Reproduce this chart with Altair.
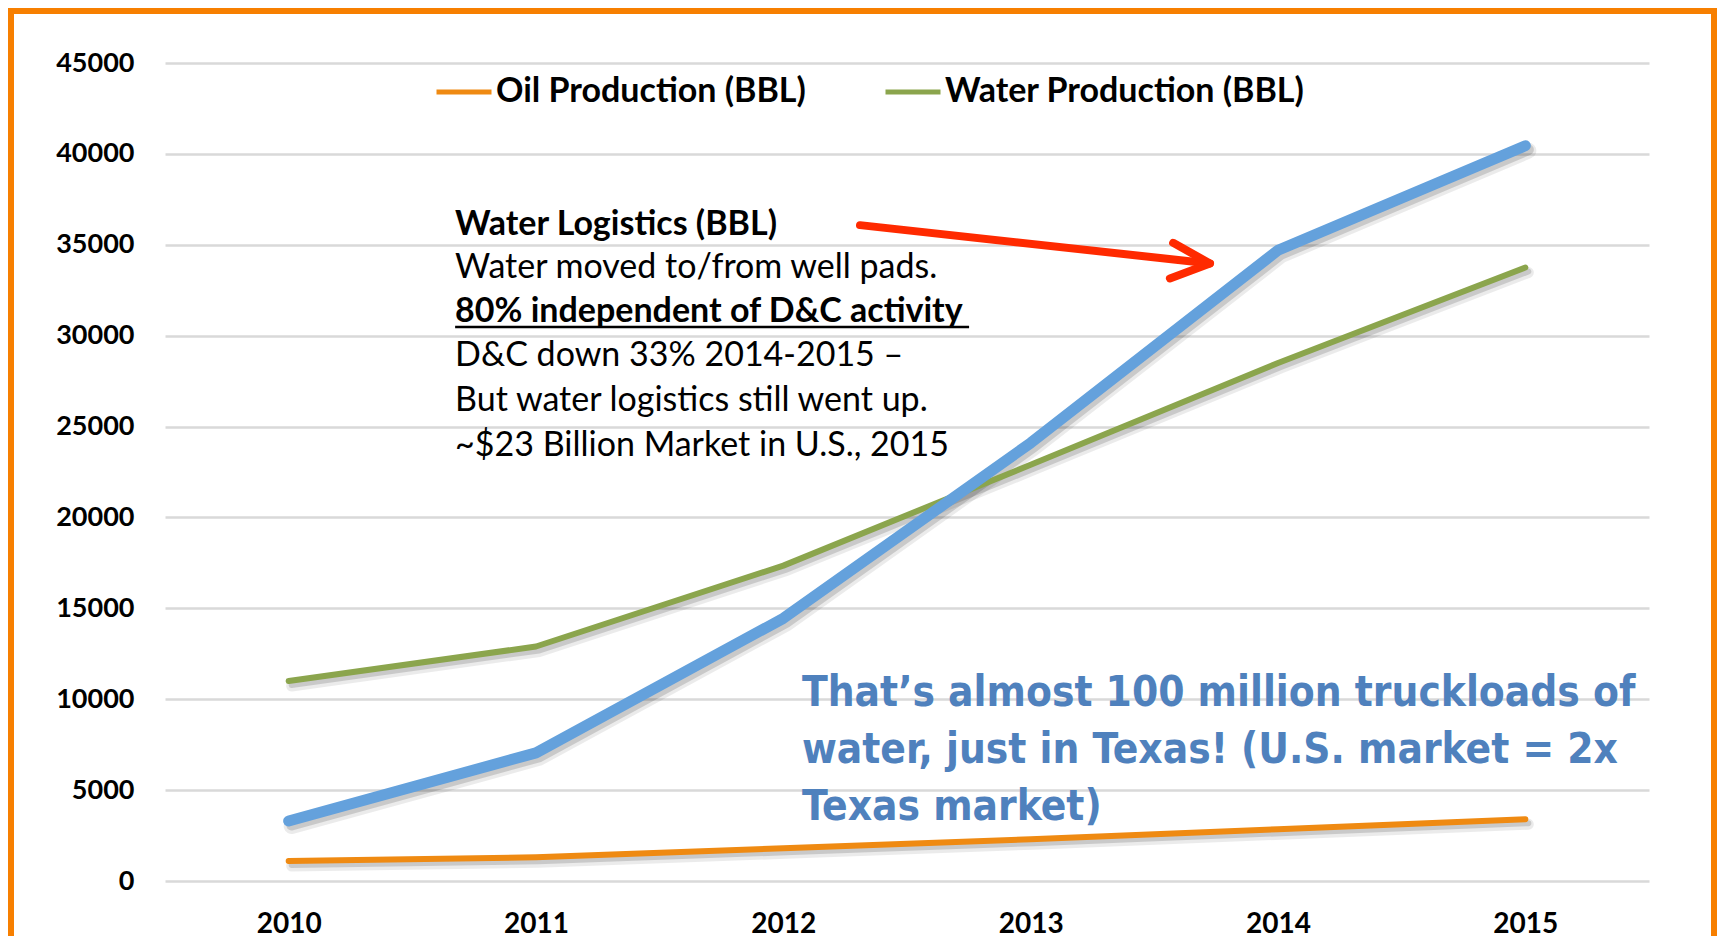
import altair as alt
import pandas as pd

# ---------------- data ----------------
years = [2010, 2011, 2012, 2013, 2014, 2015]
oil_production = [1100, 1300, 1800, 2300, 2850, 3400]
water_production = [11000, 12900, 17350, 22900, 28500, 33750]
water_logistics = [3300, 7050, 14450, 24100, 34700, 40450]

legend_names = ["Oil Production (BBL)", "Water Production (BBL)"]
y_ticks = [0, 5000, 10000, 15000, 20000, 25000, 30000, 35000, 40000, 45000]

note_lines = [
    "Water Logistics (BBL)",
    "Water moved to/from well pads.",
    "80% independent of D&C activity",
    "D&C down 33% 2014-2015 –",
    "But water logistics still went up.",
    "~$23 Billion Market in U.S., 2015",
]
note_weights = ["bold", "normal", "bold", "normal", "normal", "normal"]
note_values = [36100, 33750, 31311, 28886, 26405, 23919]
note_year = 2010.673
underline_years = [2010.673, 2012.751]
underline_value = 30470

texas_lines = [
    "That’s almost 100 million truckloads of",
    "water, just in Texas! (U.S. market = 2x",
    "Texas market)",
]
texas_values = [9625, 6490, 3355]
texas_year = 2012.075

arrow_shaft_years = [2012.310, 2013.725]
arrow_shaft_values = [36080, 33974]
arrow_head_years = [2013.576, 2013.725, 2013.563]
arrow_head_values = [35107, 33974, 33150]

# ---------------- styles ----------------
ORANGE = "#ef8a12"
GREEN = "#8ba54d"
BLUE = "#64a1dc"
TEXT_BLUE = "#4f81bd"
RED = "#ff2a00"
FRAME = "#f77f00"
BODY_FONT = "Lato"
FUN_FONT = "DejaVu Sans Condensed, sans-serif"

W, H = 1484, 818

df = pd.DataFrame({
    "year": years * 2,
    "value": oil_production + water_production,
    "series": [legend_names[0]] * len(years) + [legend_names[1]] * len(years),
})
log_df = pd.DataFrame({"year": years, "value": water_logistics})

x_enc = alt.X(
    "year:Q",
    scale=alt.Scale(domain=[2009.5, 2015.5], nice=False, zero=False),
    axis=alt.Axis(values=years, format="d", grid=False, domain=False, ticks=False,
                  tickSize=0, labelPadding=29, labelFontSize=28, labelFontWeight="bold",
                  labelColor="black", labelFont=BODY_FONT, title=None),
)
y_enc = alt.Y(
    "value:Q",
    scale=alt.Scale(domain=[0, 45000], nice=False),
    axis=alt.Axis(values=y_ticks, format="d", grid=True, gridColor="#d9d9d9", gridWidth=2.5,
                  domain=False, ticks=False, tickSize=0, labelPadding=31, labelFontSize=27,
                  labelFontWeight="bold", labelColor="black", labelFont=BODY_FONT, title=None),
)

shadow_soft = alt.Chart(df).mark_line(
    color="black", opacity=0.08, strokeWidth=11, xOffset=3, yOffset=5, strokeCap="round"
).encode(x=x_enc, y=y_enc, detail="series:N")
shadow = alt.Chart(df).mark_line(
    color="black", opacity=0.14, strokeWidth=6, xOffset=3, yOffset=4, strokeCap="round"
).encode(x=x_enc, y=y_enc, detail="series:N")

log_shadow_soft = alt.Chart(log_df).mark_line(
    color="black", opacity=0.08, strokeWidth=16, xOffset=3, yOffset=5, strokeCap="round"
).encode(x=x_enc, y=y_enc)
log_shadow = alt.Chart(log_df).mark_line(
    color="black", opacity=0.14, strokeWidth=11, xOffset=3, yOffset=4, strokeCap="round"
).encode(x=x_enc, y=y_enc)

lines = alt.Chart(df).mark_line(strokeWidth=6, strokeCap="round", strokeJoin="round").encode(
    x=x_enc,
    y=y_enc,
    color=alt.Color(
        "series:N",
        scale=alt.Scale(domain=legend_names, range=[ORANGE, GREEN]),
        legend=alt.Legend(
            orient="none", legendX=269, legendY=-1, direction="horizontal", title=None,
            symbolType="stroke", symbolSize=3025, symbolStrokeWidth=5,
            labelFontSize=34, labelFontWeight="bold", labelFont=BODY_FONT,
            labelColor="black", labelOffset=2, columnPadding=69, labelLimit=600,
        ),
    ),
)

log_line = alt.Chart(log_df).mark_line(
    color=BLUE, strokeWidth=11, strokeCap="round", strokeJoin="round"
).encode(x=x_enc, y=y_enc)

notes_df = pd.DataFrame({
    "text": note_lines, "weight": note_weights,
    "value": note_values, "year": [note_year] * len(note_lines),
})
notes_bold = alt.Chart(notes_df).transform_filter(alt.datum.weight == "bold").mark_text(
    align="left", baseline="middle", font=BODY_FONT, fontSize=34, fontWeight="bold", color="black"
).encode(x="year:Q", y="value:Q", text="text:N")
notes_norm = alt.Chart(notes_df).transform_filter(alt.datum.weight == "normal").mark_text(
    align="left", baseline="middle", font=BODY_FONT, fontSize=34, color="black"
).encode(x="year:Q", y="value:Q", text="text:N")

underline = alt.Chart(pd.DataFrame({
    "x1": [underline_years[0]], "x2": [underline_years[1]], "v": [underline_value]
})).mark_rule(color="black", strokeWidth=2.5).encode(x="x1:Q", x2="x2:Q", y="v:Q")

texas_df = pd.DataFrame({
    "text": texas_lines, "value": texas_values, "year": [texas_year] * len(texas_lines)
})
texas = alt.Chart(texas_df).mark_text(
    align="left", baseline="alphabetic", font=FUN_FONT, fontSize=42, fontWeight="bold",
    color=TEXT_BLUE
).encode(x="year:Q", y="value:Q", text="text:N")

shaft = alt.Chart(pd.DataFrame({
    "year": arrow_shaft_years, "value": arrow_shaft_values, "i": [0, 1]
})).mark_line(color=RED, strokeWidth=8, strokeCap="round").encode(
    x="year:Q", y="value:Q", order="i:Q")
head = alt.Chart(pd.DataFrame({
    "year": arrow_head_years, "value": arrow_head_values, "i": [0, 1, 2]
})).mark_line(color=RED, strokeWidth=8, strokeCap="round", strokeJoin="round").encode(
    x="year:Q", y="value:Q", order="i:Q")

one = pd.DataFrame({"a": [0]})
frame_left = alt.Chart(one).mark_rect(color=FRAME).encode(
    x=alt.value(-157), x2=alt.value(-151), y=alt.value(-55), y2=alt.value(H + 55))
frame_right = alt.Chart(one).mark_rect(color=FRAME).encode(
    x=alt.value(W + 62), x2=alt.value(W + 68), y=alt.value(-55), y2=alt.value(H + 55))
frame_top = alt.Chart(one).mark_rect(color=FRAME).encode(
    x=alt.value(-157), x2=alt.value(W + 68), y=alt.value(-55), y2=alt.value(-49))

chart = alt.layer(
    shadow_soft, shadow, log_shadow_soft, log_shadow, lines, log_line,
    notes_bold, notes_norm, underline, texas,
    shaft, head, frame_left, frame_right, frame_top
).properties(width=W, height=H, padding=0, background="white").configure_view(stroke=None)

chart.save("out.html", embed_options={"renderer": "svg", "actions": False})
